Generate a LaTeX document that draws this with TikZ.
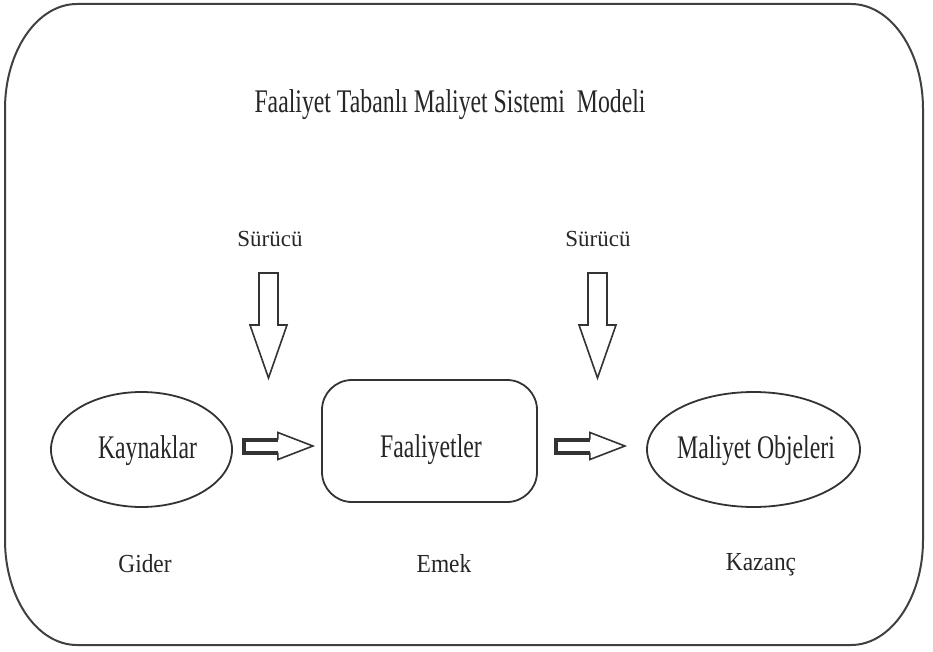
\documentclass[tikz,border=0pt]{standalone}
\usepackage{fontspec}
\setmainfont{Liberation Serif}
\newfontfamily\condfont[FakeStretch=0.72]{Liberation Serif}
\newfontfamily\lblfont[FakeStretch=0.9]{Liberation Serif}
\usetikzlibrary{shapes.geometric,calc}
\begin{document}
\begin{tikzpicture}[x=1pt,y=-1pt,
  ink/.style={draw=black!80, line width=1.8pt},
  big/.style={font=\condfont\fontsize{33}{36}\selectfont, text=black!85, inner sep=0pt},
  drv/.style={font=\fontsize{23}{26}\selectfont, text=black!85, inner sep=0pt},
  lbl/.style={font=\lblfont\fontsize{26}{28}\selectfont, text=black!85, inner sep=0pt},
  thinarrow/.style={draw=black!80, line width=1.6pt, line join=miter},
  shaftline/.style={draw=black!80, line width=4pt, line join=miter}]
\useasboundingbox (0,0) rectangle (933,652);
% outer frame
\draw[draw=black!75, line width=2pt] (77,4) -- (851,4)
  arc[start angle=-90, end angle=0, x radius=72, y radius=105] -- (923,540)
  arc[start angle=0, end angle=90, x radius=72, y radius=105] -- (77,645)
  arc[start angle=90, end angle=180, x radius=72, y radius=105] -- (5,109)
  arc[start angle=180, end angle=270, x radius=72, y radius=105] -- cycle;
% title
\node[big, anchor=base] (title) at (450,113) {Faaliyet Tabanlı Maliyet Sistemi\ \ Modeli};
% shapes
\node[ellipse, ink, minimum width=181pt, minimum height=115pt, inner sep=0pt] (kay) at (141.5,449.5) {};
\node[rectangle, ink, rounded corners=30pt, minimum width=215pt, minimum height=122pt, inner sep=0pt] (faa) at (429.5,441) {};
\node[ellipse, ink, minimum width=213pt, minimum height=115pt, inner sep=0pt] (mal) at (753.5,449.5) {};
% texts in shapes
\node[big, anchor=base] (kayT) at (147.5,458) {Kaynaklar};
\node[big, anchor=base] (faaT) at (431,457) {Faaliyetler};
\node[big, anchor=base] (malT) at (756,458) {Maliyet Objeleri};
% drivers
\node[drv, anchor=base] (sur1) at (270,247) {Sürücü};
\node[drv, anchor=base] (sur2) at (598,247) {Sürücü};
% bottom labels
\node[lbl, anchor=base] (gid) at (145,572) {Gider};
\node[lbl, anchor=base] (emk) at (444,572) {Emek};
\node[lbl, anchor=base] (kaz) at (761,570) {Kazanç};
% down block arrows
\foreach \s/\dx in {sur1/-1.5, sur2/-0.5}{
  \draw[thinarrow, fill=white, shift={($(\s.base)+(\dx,26)$)}]
    (-9.5,0) -- (9.5,0) -- (9.5,52) -- (18.5,52) -- (0,105) -- (-18.5,52) -- (-9.5,52) -- cycle;
}
% right block arrows
\foreach \n/\dx/\dy in {kay/11/-3.5, faa/18/5}{
  \begin{scope}[shift={($(\n.east)+(\dx,\dy)$)}]
    \draw[thinarrow] (34,-6.5) -- (34,-13.5) -- (69,0) -- (34,13.5) -- (34,6.5);
    \draw[shaftline] (34,-6.5) -- (0,-6.5) -- (0,6.5) -- (34,6.5);
  \end{scope}
}
\end{tikzpicture}
\end{document}
